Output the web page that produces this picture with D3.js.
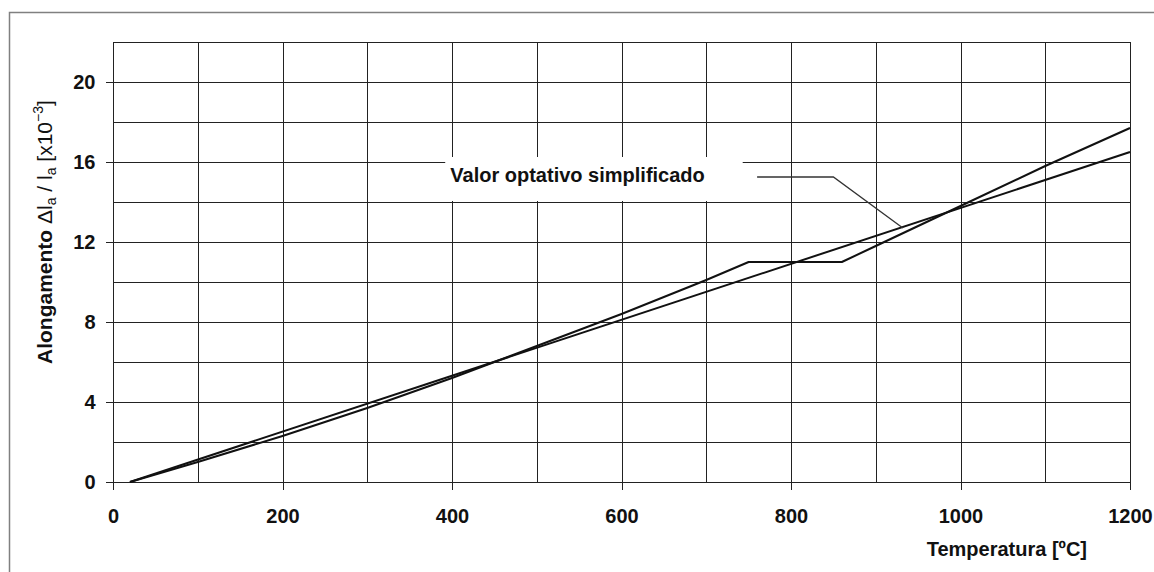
<!DOCTYPE html>
<html>
<head>
<meta charset="utf-8">
<script src="https://cdn.jsdelivr.net/npm/d3@7"></script>
<style>
  body { margin: 0; background: #fff; }
  svg { display: block; font-family: "Liberation Sans", Arial, sans-serif; }
</style>
</head>
<body>
<div id="chart"></div>
<script>
// temperatura [ºC] e alongamento [x10^-3]
var tempAco = [20, 100, 200, 300, 400, 500, 600, 700, 750, 860, 900, 1000, 1100, 1200];
var alongAco = [0, 1.0, 2.3, 3.7, 5.2, 6.8, 8.4, 10.1, 11.0, 11.0, 11.8, 13.8, 15.8, 17.7];
var tempSimpl = [20, 1200];
var alongSimpl = [0, 16.5];
var xTicks = [0, 200, 400, 600, 800, 1000, 1200];
var yTicks = [0, 4, 8, 12, 16, 20];
var xGrid = [100, 200, 300, 400, 500, 600, 700, 800, 900, 1000, 1100];
var yGrid = [2, 4, 6, 8, 10, 12, 14, 16, 18, 20];
var rotulo = "Valor optativo simplificado";

var width = 1154,
  height = 572,
  margin = {left: 113, right: 24, top: 42, bottom: 90},
  svg = d3.select("#chart").append("svg")
    .attr("width", width)
    .attr("height", height),
  x = d3.scaleLinear().domain([0, 1200]).range([margin.left, width - margin.right]),
  y = d3.scaleLinear().domain([0, 22]).range([height - margin.bottom, margin.top]);

// moldura externa
svg.append("path")
  .attr("d", "M9.5," + height + "V12.5H" + width)
  .attr("fill", "none")
  .attr("stroke", "#808080")
  .attr("stroke-width", 1.5);

var grid = svg.append("g").attr("stroke", "#222").attr("stroke-width", 1).attr("shape-rendering", "crispEdges");
grid.selectAll(".v").data(xGrid).enter().append("line")
  .attr("x1", function (d) { return Math.round(x(d)) + 0.5; })
  .attr("x2", function (d) { return Math.round(x(d)) + 0.5; })
  .attr("y1", y(0)).attr("y2", y(22));
grid.selectAll(".h").data(yGrid).enter().append("line")
  .attr("y1", function (d) { return Math.round(y(d)) + 0.5; })
  .attr("y2", function (d) { return Math.round(y(d)) + 0.5; })
  .attr("x1", x(0)).attr("x2", x(1200));

svg.append("rect")
  .attr("x", Math.round(x(0)) + 0.5).attr("y", Math.round(y(22)) + 0.5)
  .attr("width", Math.round(x(1200) - x(0))).attr("height", Math.round(y(0) - y(22)))
  .attr("fill", "none").attr("stroke", "#222").attr("shape-rendering", "crispEdges");

// eixos
var yAxis = svg.append("g")
  .attr("transform", "translate(" + (Math.round(x(0)) + 0.5) + ",0)")
  .call(d3.axisLeft(y).tickValues(yTicks).tickFormat(d3.format("d")).tickSize(8).tickSizeOuter(0).tickPadding(10));
var xAxis = svg.append("g")
  .attr("transform", "translate(0," + (Math.round(y(0)) + 0.5) + ")")
  .call(d3.axisBottom(x).tickValues(xTicks).tickFormat(d3.format("d")).tickSize(7).tickSizeOuter(0).tickPadding(19));
[xAxis, yAxis].forEach(function (a) {
  a.select(".domain").remove();
  a.selectAll("line").attr("stroke", "#222").attr("shape-rendering", "crispEdges");
  a.selectAll("text").attr("font-size", "20px").attr("font-weight", "bold")
    .attr("font-family", "Liberation Sans, Arial, sans-serif").attr("fill", "#111");
});

// curvas
var line = d3.line()
  .x(function (d) { return x(d[0]); })
  .y(function (d) { return y(d[1]); });
var series = [d3.zip(tempAco, alongAco), d3.zip(tempSimpl, alongSimpl)];
svg.selectAll(".curva").data(series).enter().append("path")
  .attr("class", "curva")
  .attr("d", line)
  .attr("fill", "none")
  .attr("stroke", "#111")
  .attr("stroke-width", 2)
  .attr("stroke-linejoin", "round");

// rotulo com caixa branca e linha de chamada
svg.append("rect")
  .attr("x", x(392)).attr("y", y(16.25))
  .attr("width", x(743) - x(392)).attr("height", y(14.05) - y(16.25))
  .attr("fill", "#fff");
svg.append("text")
  .attr("x", x(398)).attr("y", y(15.0))
  .attr("font-size", "20px").attr("font-weight", "bold").attr("fill", "#111")
  .text(rotulo);
svg.append("path")
  .attr("d", line([[760, 15.25], [850, 15.25], [932, 12.7]]))
  .attr("fill", "none").attr("stroke", "#333").attr("stroke-width", 1.3);

// titulos
svg.append("text")
  .attr("x", 1087).attr("y", 556)
  .attr("text-anchor", "end")
  .attr("font-size", "20px").attr("font-weight", "bold").attr("fill", "#111")
  .text("Temperatura [ºC]");

var yt = svg.append("text")
  .attr("transform", "translate(52,364) rotate(-90)")
  .attr("font-size", "21px").attr("fill", "#111");
yt.append("tspan").attr("font-weight", "bold").text("Alongamento ");
yt.append("tspan").text("Δl");
yt.append("tspan").attr("font-size", "14px").attr("dy", 4).text("a");
yt.append("tspan").attr("dy", -4).text(" / l");
yt.append("tspan").attr("font-size", "14px").attr("dy", 4).text("a");
yt.append("tspan").attr("dy", -4).text(" [x10");
yt.append("tspan").attr("font-size", "14px").attr("dy", -9).text("−3");
yt.append("tspan").attr("dy", 9).text("]");
</script>
</body>
</html>
